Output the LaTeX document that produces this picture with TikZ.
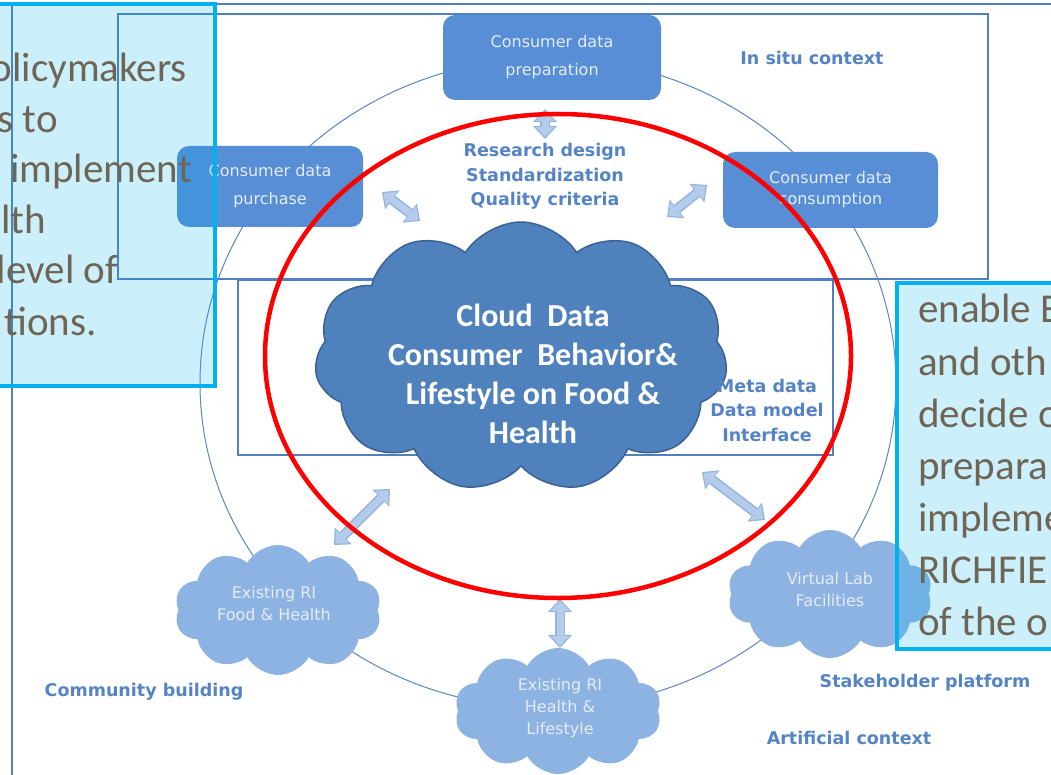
\documentclass[tikz,border=0pt]{standalone}
\usepackage{fontspec}
\setmainfont{Carlito}
\newfontfamily\dvsans{DejaVu Sans}
\usetikzlibrary{shapes.symbols,arrows.meta}
\definecolor{lineblue}{HTML}{5080BE}
\definecolor{ringblue}{HTML}{5B87C5}
\definecolor{boxblue}{HTML}{578ED6}
\definecolor{boxtext}{HTML}{E4ECF7}
\definecolor{labblue}{HTML}{5584C6}
\definecolor{cloudblue}{HTML}{4F81BD}
\definecolor{cloudedge}{HTML}{3A6394}
\definecolor{lightcloud}{HTML}{8DB3E2}
\definecolor{arrowfill}{HTML}{B3CCEC}
\definecolor{arrowedge}{HTML}{94B4DE}
\definecolor{calloutcyan}{HTML}{00B0F0}
\definecolor{callouttext}{HTML}{6F6555}
\definecolor{redring}{HTML}{FF0000}
\tikzset{
  frameline/.style={draw=lineblue, line width=2pt},
  topbox/.style={rounded corners=12pt, fill=boxblue, text=boxtext, font=\dvsans\fontsize{16pt}{28pt}\selectfont, align=center, inner sep=0pt},
  lab/.style={text=labblue, font=\dvsans\bfseries\fontsize{17.5pt}{24.5pt}\selectfont, align=center, inner sep=0pt},
  bigcloud/.style={cloud, cloud puffs=11, cloud puff arc=115, fill=cloudblue, draw=cloudedge, line width=1.5pt, inner sep=0pt},
  smallcloud/.style={cloud, cloud puffs=10, cloud puff arc=120, fill=lightcloud, inner sep=0pt},
  cloudtext/.style={text=boxtext, font=\dvsans\fontsize{16pt}{22pt}\selectfont, align=center, inner sep=0pt},
  bigtext/.style={text=white, font=\bfseries\fontsize{32pt}{39pt}\selectfont, align=center, inner sep=0pt},
  callout/.style={draw=calloutcyan, line width=4pt, fill=calloutcyan, fill opacity=0.2},
  callouttxt/.style={text=callouttext, font=\fontsize{41pt}{51pt}\selectfont, inner sep=0pt},
  arrowout/.style={draw=arrowedge, line width=10pt, {Triangle[width=24pt,length=13pt,line width=0pt]}-{Triangle[width=24pt,length=13pt,line width=0pt]}},
  arrowin/.style={draw=arrowfill, line width=7pt, shorten <=2pt, shorten >=2pt, {Triangle[width=19pt,length=10pt,line width=0pt]}-{Triangle[width=19pt,length=10pt,line width=0pt]}},
}
\begin{document}
\begin{tikzpicture}[x=1pt,y=-1pt]
\useasboundingbox (0,0) rectangle (1051,775);
\clip (0,0) rectangle (1051,775);
\fill[white] (0,0) rectangle (1051,775);
% frames
\draw[frameline] (12,4) rectangle (1070,800);
\draw[frameline] (118,14) rectangle (988,279);
\draw[frameline] (238,280) rectangle (833,455);
% thin ring
\draw[ringblue, line width=1pt] (548,383) ellipse [x radius=348pt, y radius=325pt];
% top boxes
\node[topbox, minimum width=218pt, minimum height=85pt] (prep) at (552,57.5) {Consumer data\\preparation};
\node[topbox, minimum width=186pt, minimum height=81pt] (purch) at (270,186.5) {Consumer data\\purchase};
\node[topbox, minimum width=215pt, minimum height=76pt, font=\dvsans\fontsize{16pt}{21pt}\selectfont] (cons) at (830.5,190) {Consumer data\\consumption};
% clouds
\node[bigcloud, minimum width=413pt, minimum height=270pt] (cdata) at (521,357) {};
\node[bigtext] (cdatatxt) at (533,374) {Cloud\ \ Data\\Consumer\ \ Behavior\&\\Lifestyle on Food \&\\Health};
\node[smallcloud, minimum width=207pt, minimum height=130pt] (food) at (278,610) {};
\node[cloudtext] (foodtxt) at (274,604) {Existing RI\\Food \& Health};
\node[smallcloud, minimum width=207pt, minimum height=126pt] (health) at (558,711) {};
\node[cloudtext] (healthtxt) at (560,708) {Existing RI\\Health \&\\Lifestyle};
\node[smallcloud, minimum width=205pt, minimum height=128pt] (vlab) at (830,594) {};
\node[cloudtext] (vlabtxt) at (830,590) {Virtual Lab\\Facilities};
% arrows
\coordinate (a1s) at (545,109); \coordinate (a1e) at (545,139);
\coordinate (a2s) at (382,192); \coordinate (a2e) at (420,221);
\coordinate (a3s) at (707,185); \coordinate (a3e) at (667,217);
\coordinate (a4s) at (390,489); \coordinate (a4e) at (334,545);
\coordinate (a5s) at (560,599); \coordinate (a5e) at (560,648);
\coordinate (a6s) at (702,472); \coordinate (a6e) at (765,520);
\foreach \a in {1,...,6}{
  \draw[arrowout] (a\a s) -- (a\a e);
  \draw[arrowin] (a\a s) -- (a\a e);
}
% labels
\node[lab] (rdesign) at (545,176.5) {Research design\\Standardization\\Quality criteria};
\node[lab] (insitu) at (812,58) {In situ context};
\node[lab] (meta) at (767,410) {Meta data\\Data model\\Interface};
\node[lab] (community) at (144,692) {Community building};
\node[lab] (stake) at (925,683) {Stakeholder platform};
\node[lab] (artif) at (849,738) {Artificial context};
% red ring
\draw[redring, line width=4.5pt] (558,356) ellipse [x radius=293pt, y radius=242pt];
% callouts
\draw[callout] (-10,4) rectangle (215,386);
\draw[callout] (897,283) rectangle (1070,649);
\node[callouttxt, anchor=base east] (l1) at (187,82) {policymakers};
\node[callouttxt, anchor=base east] (l2) at (58,133) {s to};
\node[callouttxt, anchor=base east] (l3) at (192,183) {implement};
\node[callouttxt, anchor=base east] (l4) at (46,234) {lth};
\node[callouttxt, anchor=base east] (l5) at (118,284) {level of};
\node[callouttxt, anchor=base east] (l6) at (97,335) {tions.};
\node[callouttxt, anchor=base west] (r1) at (918,323) {enable E};
\node[callouttxt, anchor=base west] (r2) at (918,375) {and oth};
\node[callouttxt, anchor=base west] (r3) at (918,427) {decide o};
\node[callouttxt, anchor=base west] (r4) at (918,479) {prepara};
\node[callouttxt, anchor=base west] (r5) at (918,531) {impleme};
\node[callouttxt, anchor=base west] (r6) at (918,583) {RICHFIE};
\node[callouttxt, anchor=base west] (r7) at (918,635) {of the o};
\end{tikzpicture}
\end{document}
